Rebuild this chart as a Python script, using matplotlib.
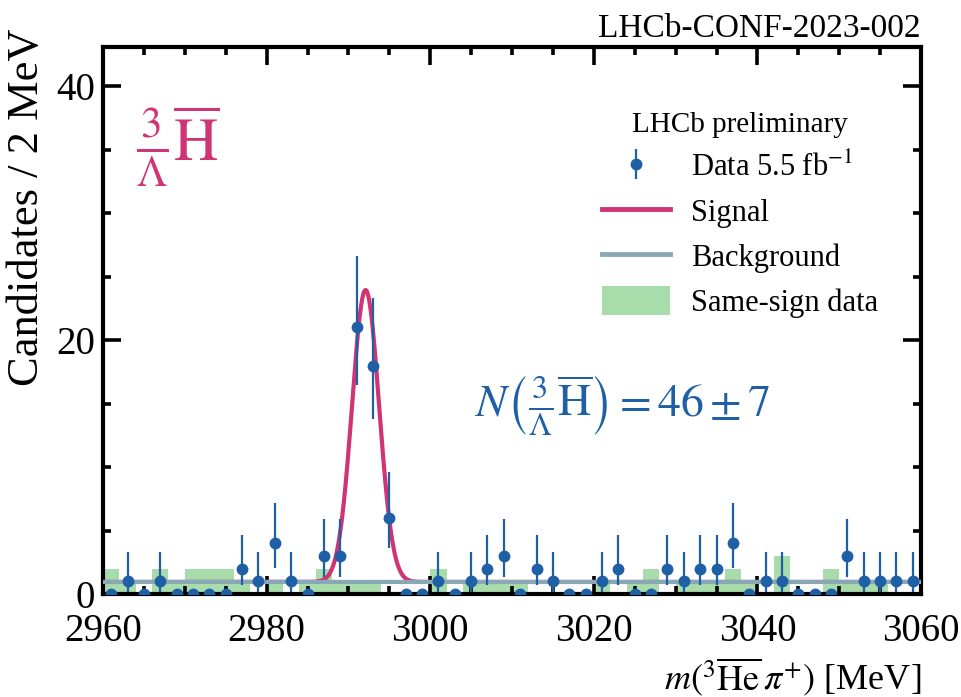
import numpy as np
import matplotlib
matplotlib.use("Agg")
import matplotlib.pyplot as plt
from matplotlib.patches import Patch
from matplotlib.lines import Line2D

plt.rcParams['font.family'] = ['Liberation Serif', 'DejaVu Serif']
plt.rcParams['mathtext.fontset'] = 'stix'

# ---- data ----
bin_centers = np.arange(2961, 3060, 2)
counts = [0, 1, 0, 1, 0, 0, 0, 0, 2, 1,
          4, 1, 0, 3, 3, 21, 18, 6, 0, 0,
          1, 0, 1, 2, 3, 0, 2, 1, 0, 0,
          1, 2, 0, 0, 2, 1, 2, 2, 4, 0,
          1, 1, 0, 0, 0, 3, 1, 1, 1, 1]
# Poisson (Garwood 68%) interval bounds for observed counts
poisson_low = {0: 0.0, 1: 0.173, 2: 0.708, 3: 1.367, 4: 2.086, 6: 3.620, 18: 13.79, 21: 16.50}
poisson_high = {0: 0.0, 1: 3.300, 2: 4.638, 3: 5.918, 4: 7.163, 6: 9.584, 18: 23.30, 21: 26.61}

ss_edges = np.arange(2960, 3060, 2)
same_sign = [2, 1, 0, 2, 1, 2, 2, 2, 1, 0,
             1, 0, 1, 2, 1, 1, 1, 0, 0, 0,
             2, 0, 1, 1, 1, 1, 0, 0, 0, 0,
             1, 0, 1, 2, 0, 1, 1, 1, 2, 1,
             0, 3, 0, 0, 2, 1, 1, 1, 0, 0]

bkg_level = 0.95
peak_mean = 2992.1
peak_sigma = 1.65
peak_height = 23.0

c_data = '#1f5fa6'
c_sig = '#d03474'
c_bkg = '#88a8b6'
c_ss = '#a9dcab'

fig = plt.figure(figsize=(9.62, 6.97), dpi=100)
ax = fig.add_axes([103/962, 1-594/697, (921-103)/962, (594-47)/697])

# same-sign histogram
ax.bar(ss_edges, same_sign, width=2, align='edge', color=c_ss, linewidth=0, zorder=1)

# fit curves
xf = np.linspace(2960, 3060, 2001)
sig = bkg_level + peak_height*np.exp(-0.5*((xf-peak_mean)/peak_sigma)**2)
ax.plot(xf, sig, color=c_sig, lw=3, zorder=3)
ax.plot(xf, np.full_like(xf, bkg_level), color=c_bkg, lw=3, zorder=4)

# data
cnt = np.array(counts, dtype=float)
lo = np.array([c - poisson_low[c] for c in counts])
hi = np.array([poisson_high[c] - c for c in counts])
h_data = ax.errorbar(bin_centers, cnt, yerr=[lo, hi], fmt='o', color=c_data, ms=7.5,
                     elinewidth=1.6, capsize=0, zorder=5)

ax.set_xlim(2960, 3060)
ax.set_ylim(0, 43.1)
ax.set_xticks([2960, 2980, 3000, 3020, 3040, 3060])
ax.set_yticks([0, 20, 40])
ax.set_xticks(np.arange(2960, 3061, 5), minor=True)
ax.set_yticks(np.arange(0, 43, 5), minor=True)
ax.tick_params(which='both', direction='in', top=True, right=True, width=2.6, labelsize=28)
ax.tick_params(which='major', length=13)
ax.tick_params(which='minor', length=6)
ax.tick_params(axis='x', pad=14)
ax.tick_params(axis='y', pad=6)
for s in ax.spines.values():
    s.set_linewidth(3)

# legend
handles = [
    h_data,
    Line2D([], [], color=c_sig, lw=3.5),
    Line2D([], [], color=c_bkg, lw=3.5),
    Patch(facecolor=c_ss, edgecolor='none'),
]
labels = [r'Data 5.5 fb$^{-1}$', 'Signal', 'Background', 'Same-sign data']
leg = ax.legend(handles, labels, title='LHCb preliminary', loc='upper left',
                bbox_to_anchor=((578-103)/818, 0.925), frameon=False, fontsize=22,
                title_fontsize=21, handlelength=2.2, handleheight=1.1,
                handletextpad=0.7, labelspacing=0.42, borderpad=0.3)

ax.text(0.091, 0.82, r'$\frac{3}{\Lambda}\overline{\mathrm{H}}$', transform=ax.transAxes,
        color=c_sig, fontsize=44, ha='center', va='center')
ax.text(0.635, 0.345, r'$N\left(\frac{3}{\Lambda}\overline{\mathrm{H}}\right) = 46 \pm 7$',
        transform=ax.transAxes, color=c_data, fontsize=33, ha='center', va='center')

fig.text(921/962, 1-29/697, 'LHCb-CONF-2023-002', ha='right', va='center', fontsize=24)
fig.text(921/962, 1-677/697, r'$m(^3\overline{\mathrm{He}}\,\pi^{+})$ [MeV]',
         ha='right', va='center', fontsize=26)
fig.text(27/962, 1-28/697, 'Candidates / 2 MeV', rotation=90, ha='center', va='top',
         fontsize=32)

fig.savefig('out.png', dpi=100)
